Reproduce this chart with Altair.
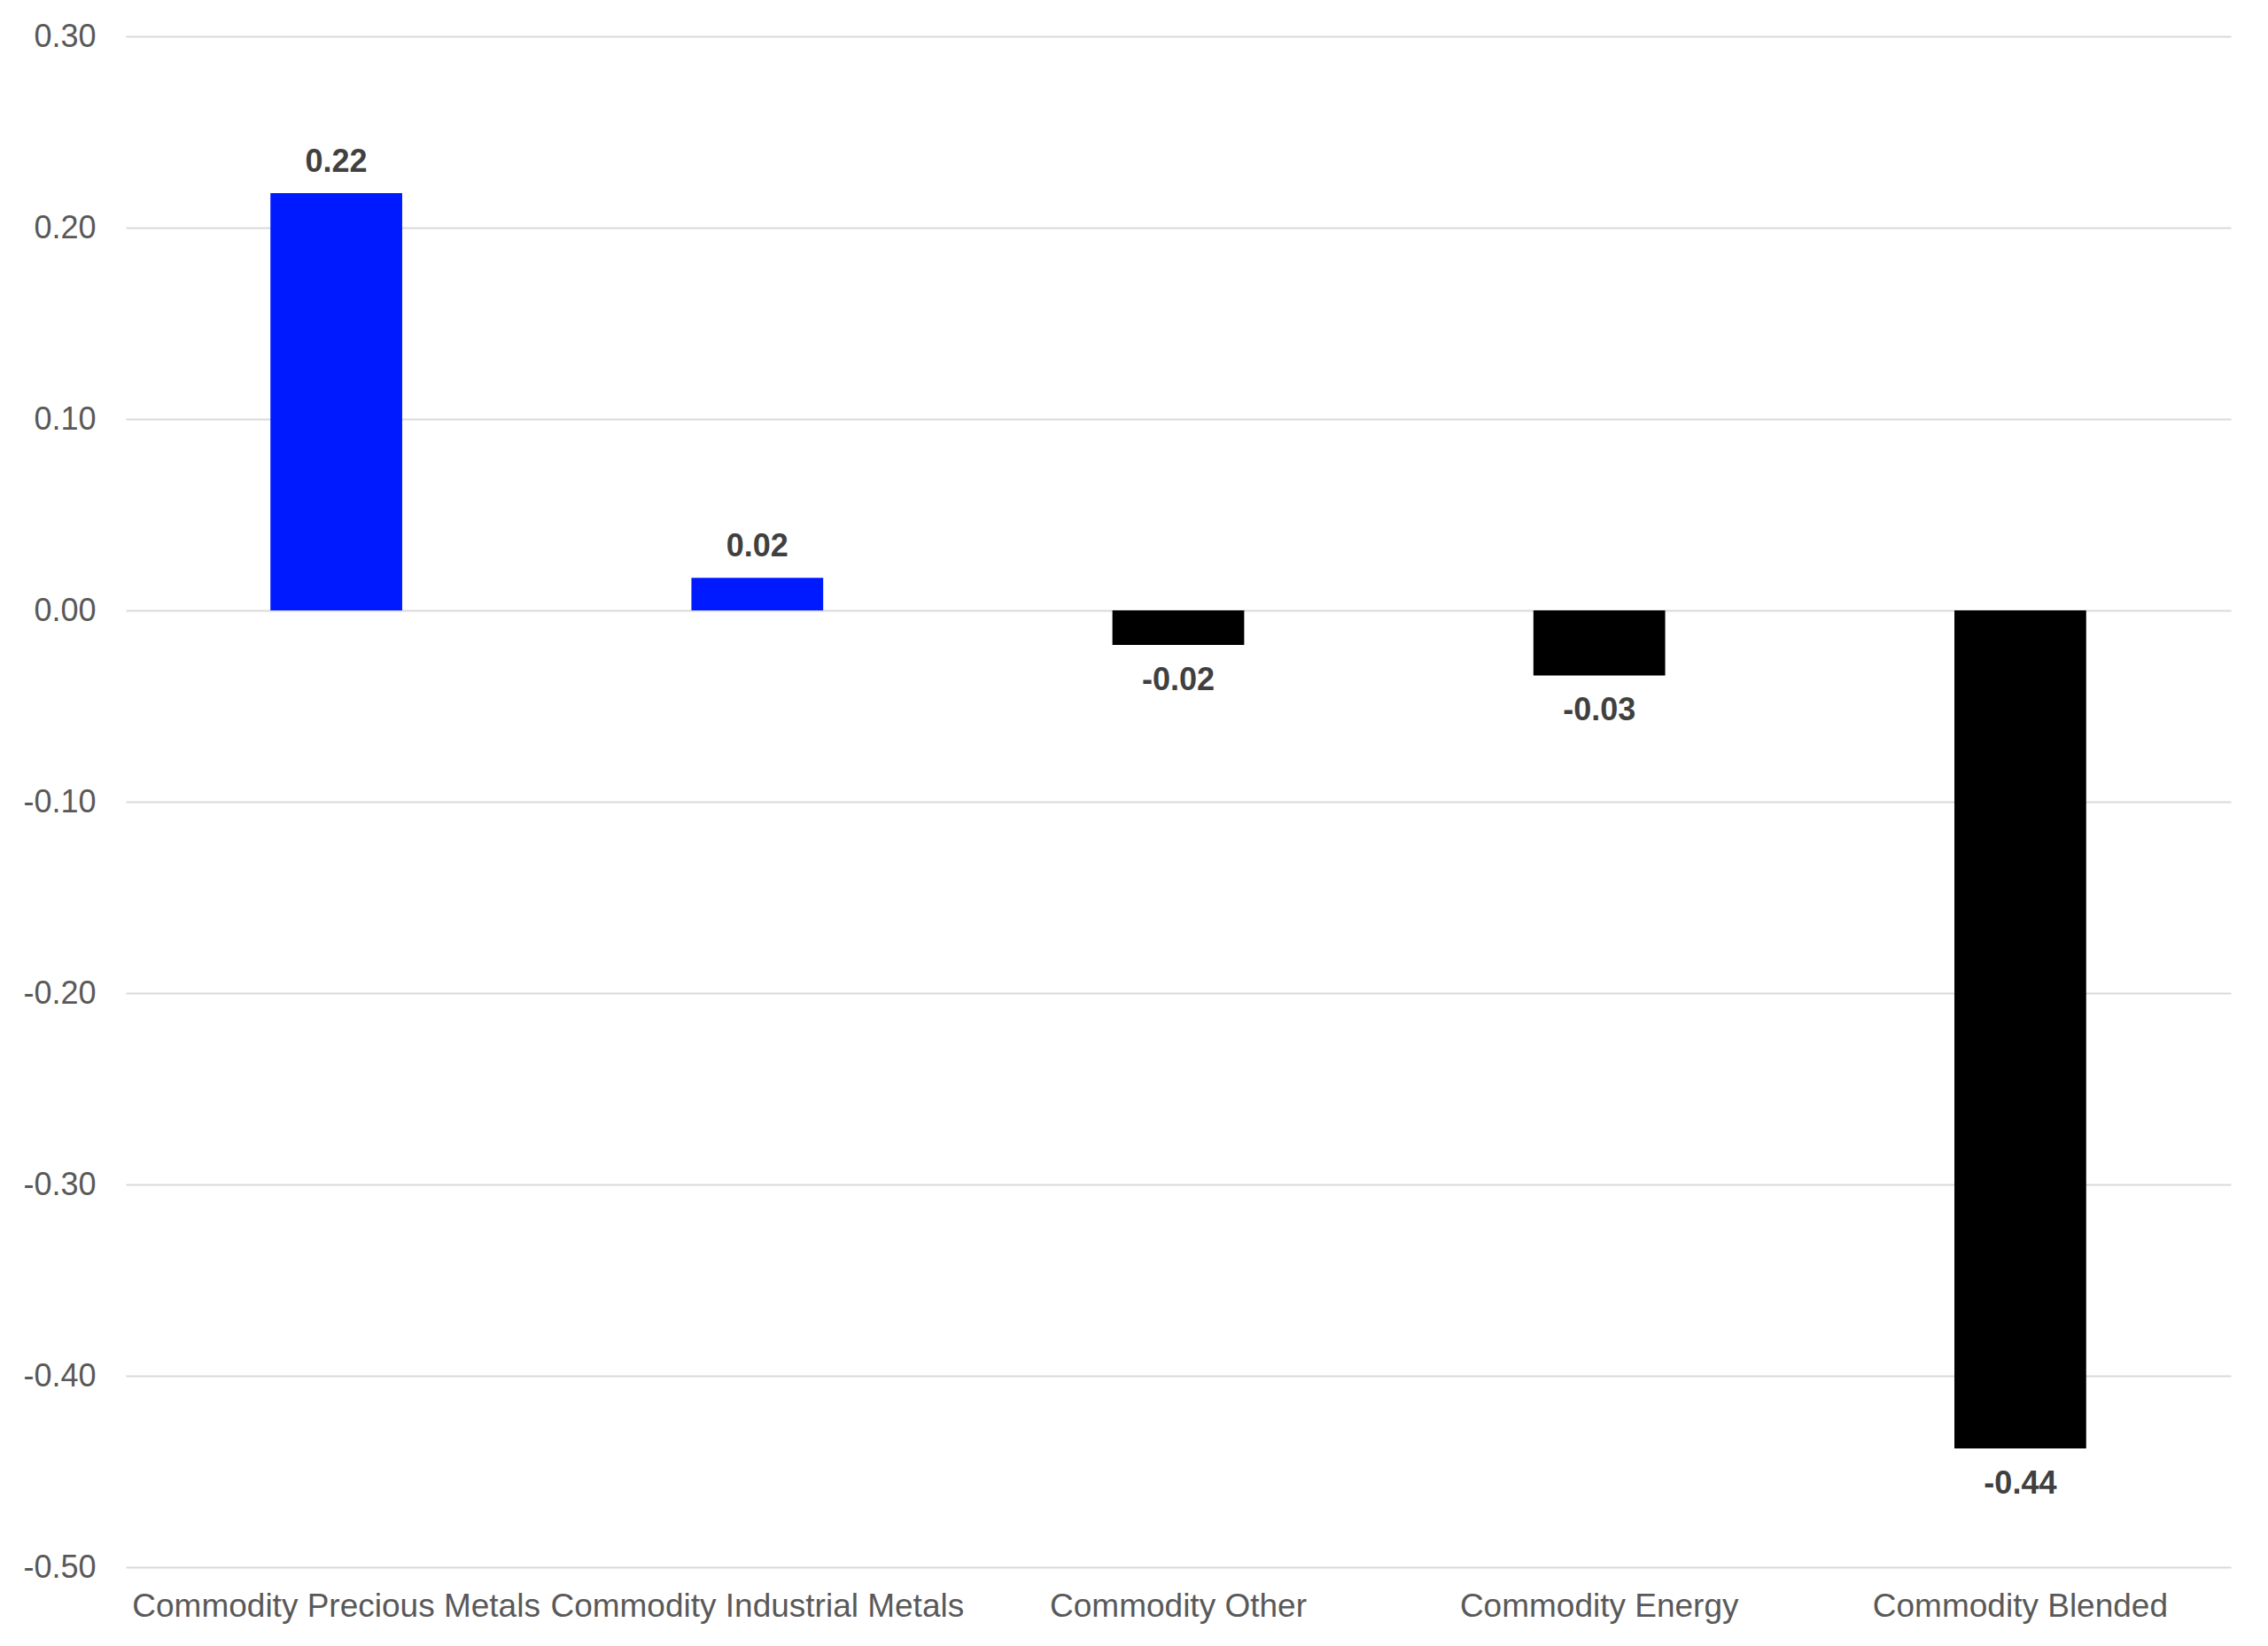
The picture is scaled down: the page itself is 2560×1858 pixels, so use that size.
import altair as alt
import pandas as pd

categories = ["Commodity Precious Metals", "Commodity Industrial Metals",
              "Commodity Other", "Commodity Energy", "Commodity Blended"]
values = [0.218, 0.017, -0.018, -0.034, -0.438]
labels = ["0.22", "0.02", "-0.02", "-0.03", "-0.44"]
bar_colors = ["#001AFF", "#001AFF", "#000000", "#000000", "#000000"]
y_ticks = [-0.5, -0.4, -0.3, -0.2, -0.1, 0.0, 0.1, 0.2, 0.3]

df = pd.DataFrame({"cat": categories, "val": values, "lab": labels, "col": bar_colors})

FONT = "Liberation Sans"

x = alt.X("cat:N", sort=categories, title=None,
          scale=alt.Scale(paddingInner=0.687, paddingOuter=0.3435),
          axis=alt.Axis(labelAngle=0, labelFontSize=37, labelFont=FONT,
                        labelColor="#595959", labelPadding=26, ticks=False,
                        domain=False, labelLimit=0, labelOverlap=False, grid=False))
y = alt.Y("val:Q", title=None,
          scale=alt.Scale(domain=[-0.5, 0.3], nice=False, zero=True),
          axis=alt.Axis(values=y_ticks,
                        labelExpr="datum.value < 0 ? '-' + format(-datum.value, '.2f') : format(datum.value, '.2f')",
                        labelFontSize=36, labelFont=FONT,
                        labelColor="#595959", labelPadding=34, ticks=False,
                        domain=False, grid=True, gridColor="#D9D9D9", gridWidth=2))

bars = alt.Chart(df).mark_bar().encode(
    x=x, y=y, color=alt.Color("col:N", scale=None, legend=None)
)

pos_text = alt.Chart(df).transform_filter("datum.val >= 0").mark_text(
    font=FONT, fontSize=36, fontWeight="bold", color="#404040",
    baseline="alphabetic", align="center", dy=-24
).encode(x=alt.X("cat:N", sort=categories), y=alt.Y("val:Q"), text="lab:N")

neg_text = alt.Chart(df).transform_filter("datum.val < 0").mark_text(
    font=FONT, fontSize=36, fontWeight="bold", color="#404040",
    baseline="alphabetic", align="center", dy=51
).encode(x=alt.X("cat:N", sort=categories), y=alt.Y("val:Q"), text="lab:N")

chart = alt.layer(bars, pos_text, neg_text).properties(
    width=2376, height=1728,
    background="white",
    autosize=alt.AutoSizeParams(type="none"),
    padding={"left": 134, "top": 33, "right": 34, "bottom": 70},
).configure_view(stroke="transparent", strokeWidth=0)

chart.save("out.html", embed_options={"renderer": "svg", "actions": False})
